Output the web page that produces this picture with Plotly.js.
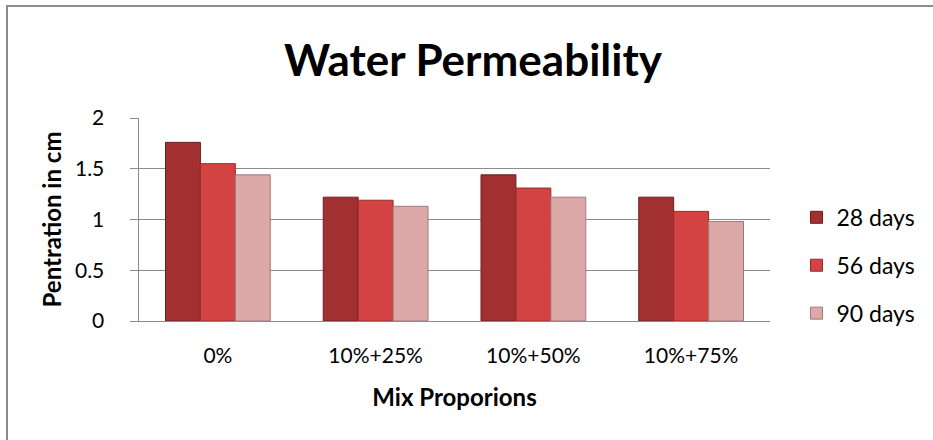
<!DOCTYPE html>
<html>
<head>
<meta charset="utf-8">
<script src="https://cdn.plot.ly/plotly-3.0.1.min.js"></script>
<style>
  html, body { margin: 0; padding: 0; background: #fff; }
  #wrap { position: relative; width: 933px; height: 440px; }
  #chart { width: 933px; height: 440px; }
  #frame { position: absolute; left: 6px; top: 5px; right: 0; bottom: 0;
           border-top: 2px solid #8c8c8c; border-left: 2px solid #8c8c8c;
           pointer-events: none; }
</style>
</head>
<body>
<div id="wrap">
  <div id="chart"></div>
  <div id="frame"></div>
</div>
<script>
const categories = ["0%", "10%+25%", "10%+50%", "10%+75%"];
const seriesNames = ["28 days", "56 days", "90 days"];
const days28 = [1.76, 1.22, 1.44, 1.22];
const days56 = [1.55, 1.19, 1.31, 1.08];
const days90 = [1.44, 1.13, 1.22, 0.98];
const yTicks = [0, 0.5, 1, 1.5, 2];
const yTickLabels = ["0", "0.5", "1", "1.5", "2"];

const FONT = "Lato, 'Open Sans', sans-serif";
const fills = ["#a33030", "#d44343", "#dca8a8"];
const edges = ["#6e1e1e", "#9a2a2a", "#a07878"];
const values = [days28, days56, days90];

const traces = values.map((v, i) => ({
  type: "bar",
  name: seriesNames[i],
  x: categories,
  y: v,
  legendgroup: "g" + i,
  marker: { color: fills[i], line: { color: edges[i], width: 1 } },
  hoverinfo: "x+y+name"
}));

const NB = "\u00a0";

const layout = {
  width: 933, height: 440,
  paper_bgcolor: "#ffffff", plot_bgcolor: "#ffffff",
  font: { family: FONT, color: "#000" },
  margin: { l: 139, r: 161, t: 118, b: 119, pad: 0 },
  title: {
    text: "<b>Water Permeability</b>",
    font: { family: FONT, size: 44, color: "#000" },
    x: 0.507, xanchor: "center", y: 0.862, yanchor: "middle"
  },
  barmode: "group",
  bargap: 0.336,
  bargroupgap: 0,
  xaxis: {
    type: "category",
    showline: true, linecolor: "#8c8c8c", linewidth: 1,
    ticks: "", showgrid: false,
    tickfont: { family: FONT, size: 21 },
    ticklabelstandoff: 16,
    title: { text: "<b>Mix Proporions</b>", font: { family: FONT, size: 24 }, standoff: 22 }
  },
  yaxis: {
    range: [0, 2], tickvals: yTicks,
    ticktext: yTickLabels.map(t => t + NB + NB + NB + NB),
    showgrid: true, gridcolor: "#8c8c8c", gridwidth: 1,
    showline: true, linecolor: "#8c8c8c", linewidth: 1,
    ticks: "outside", ticklen: 8, tickcolor: "#8c8c8c",
    tickfont: { family: FONT, size: 21 },
    zeroline: false,
    title: { text: "<b>Pentration in cm</b>", font: { family: FONT, size: 24 }, standoff: 6 }
  },
  legend: {
    x: 1.042, xanchor: "left", y: 0.274, yanchor: "middle",
    font: { family: FONT, size: 23 },
    traceorder: "grouped", tracegroupgap: 15,
    bgcolor: "rgba(0,0,0,0)"
  },
  showlegend: true
};

Plotly.newPlot("chart", traces, layout, { displayModeBar: false, staticPlot: true });
</script>
</body>
</html>
